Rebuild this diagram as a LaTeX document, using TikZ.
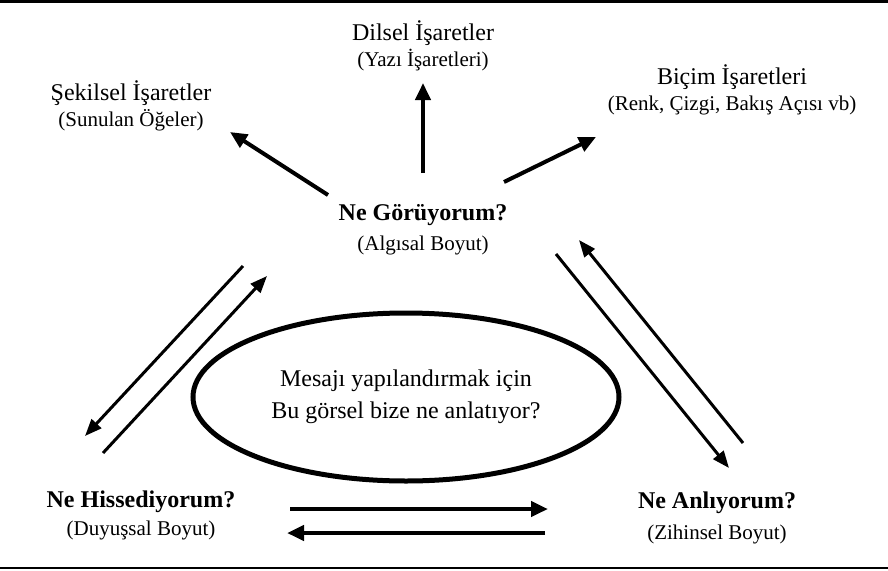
\documentclass[tikz,border=0pt]{standalone}
\usepackage{fontspec}
\setmainfont{Liberation Serif}
\usetikzlibrary{arrows.meta,shapes.geometric}

\begin{document}
\begin{tikzpicture}[x=1pt, y=-1pt,
	title/.style={font=\fontsize{24}{28}\selectfont},
	head/.style={font=\fontsize{24}{28}\selectfont\bfseries},
	sub/.style={font=\fontsize{21}{25}\selectfont},
	arr/.style={line width=4pt, -{Triangle[length=17pt,width=15pt]}},
	thinarr/.style={line width=3pt, -{Triangle[length=17pt,width=13pt]}}]
\useasboundingbox (0,0) rectangle (888,570);

	%% Rules
	\draw[line width=3pt] (0,1.5) -- (888,1.5);
	\draw[line width=1.5pt] (0,568) -- (888,568);

	%% Signs
	\node[title] (lang) at (423,33) {Dilsel İşaretler};
	\node[sub] (langsub) at (423,60) {(Yazı İşaretleri)};
	\node[title] (shape) at (131,93) {Şekilsel İşaretler};
	\node[sub] (shapesub) at (131,120) {(Sunulan Öğeler)};
	\node[title] (form) at (732,77) {Biçim İşaretleri};
	\node[sub] (formsub) at (732,105) {(Renk, Çizgi, Bakış Açısı vb)};

	%% Dimensions
	\node[head] (see) at (423,215) {Ne Görüyorum?};
	\node[sub] (seesub) at (423,245) {(Algısal Boyut)};
	\node[head] (feel) at (141,502) {Ne Hissediyorum?};
	\node[sub] (feelsub) at (141,530) {(Duyuşsal Boyut)};
	\node[head] (know) at (717,503) {Ne Anlıyorum?};
	\node[sub] (knowsub) at (717,534) {(Zihinsel Boyut)};

	%% Ellipse
	\node[draw, ellipse, line width=5pt, minimum width=426pt, minimum height=168pt,
		align=center, font=\fontsize{24}{32}\selectfont] (msg) at (406,397)
		{Mesajı yapılandırmak için\\Bu görsel bize ne anlatıyor?};

	%%%%%%%%%%%%%%%%

	%% Arrow ends
	\coordinate (upA) at (423,173);   \coordinate (upB) at (423,83);
	\coordinate (ulA) at (328,195);   \coordinate (ulB) at (230,132);
	\coordinate (urA) at (504,182);   \coordinate (urB) at (596,137);
	\coordinate (lA) at (243,266);    \coordinate (lB) at (85,436);
	\coordinate (lC) at (103,453);    \coordinate (lD) at (267,276);
	\coordinate (rA) at (556,254);    \coordinate (rB) at (729,468);
	\coordinate (rC) at (743,443);    \coordinate (rD) at (579,240);
	\coordinate (bA) at (290,509);    \coordinate (bB) at (548,509);
	\coordinate (bC) at (545,533);    \coordinate (bD) at (287,533);

	%% Arrows
	\draw[arr] (upA) -- (upB);
	\draw[arr] (ulA) -- (ulB);
	\draw[arr] (urA) -- (urB);
	\draw[thinarr] (lA) -- (lB);
	\draw[thinarr] (lC) -- (lD);
	\draw[thinarr] (rA) -- (rB);
	\draw[thinarr] (rC) -- (rD);
	\draw[arr, line width=4.5pt] (bA) -- (bB);
	\draw[arr, line width=4.5pt] (bC) -- (bD);

\end{tikzpicture}
\end{document}
